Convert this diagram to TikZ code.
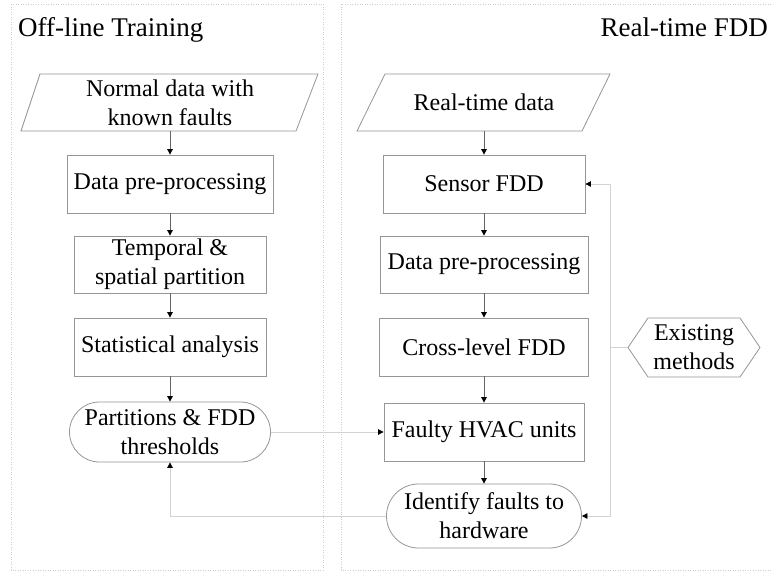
\documentclass[tikz,border=0pt]{standalone}
\usepackage{fontspec}
\setmainfont{Liberation Serif}
\usetikzlibrary{arrows.meta}
\definecolor{bordergray}{RGB}{150,150,150}
\definecolor{flowgray}{RGB}{100,100,100}
\definecolor{feedgray}{RGB}{210,210,210}
\definecolor{panelgray}{RGB}{205,205,205}
\begin{document}
\begin{tikzpicture}[x=1pt,y=-1pt,
  font=\fontsize{24}{29}\selectfont,
  procbox/.style={draw=bordergray,line width=0.8pt,inner sep=0pt,align=center},
  termbox/.style={procbox},
  txtonly/.style={inner sep=0pt,align=center},
  shapeline/.style={draw=bordergray,line width=0.8pt,line join=miter},
  flow/.style={draw=flowgray,line width=0.9pt,-{Triangle[width=5.5pt,length=5.5pt,color=black]}},
  feed/.style={draw=feedgray,line width=0.8pt,-{Triangle[width=5.5pt,length=5.5pt,color=black]}},
  feedline/.style={draw=feedgray,line width=0.8pt},
  panel/.style={draw=panelgray,line width=0.8pt,dash pattern=on 1pt off 1.5pt},
  titletext/.style={font=\fontsize{27}{32}\selectfont,inner sep=0pt}
]
\useasboundingbox (0,0) rectangle (773,576);
\fill[white] (0,0) rectangle (773,576);

% panels
\draw[panel] (11,4) rectangle (323,570);
\draw[panel] (341,4) rectangle (790,570);

% titles
\node[titletext,anchor=base west] (t1) at (18,36) {Off-line Training};
\node[titletext,anchor=base east] (t2) at (768,36) {Real-time FDD};

% ---------- left column ----------
\draw[shapeline] (40,74) -- (318,74) -- (296,131) -- (21,131) -- cycle;
\node[txtonly,minimum width=256,minimum height=57] (in1) at (170,102.5) {Normal data with\\known faults};

\node[procbox,minimum width=206,minimum height=58] (dp1) at (170,184) {Data pre-processing};
\node[procbox,minimum width=192,minimum height=57] (tp) at (170,264.5) {Temporal \&\\spatial partition};
\node[procbox,minimum width=192,minimum height=58] (sa) at (170,347) {Statistical analysis};
\node[termbox,rounded corners=30,minimum width=201,minimum height=60] (part) at (170,432) {Partitions \& FDD\\thresholds};

% ---------- right column ----------
\draw[shapeline] (385,74) -- (610,74) -- (582,131) -- (357,131) -- cycle;
\node[txtonly,minimum width=220,minimum height=57] (in2) at (484,102.5) {Real-time data};

\node[procbox,minimum width=202,minimum height=58] (sensor) at (484,184) {Sensor FDD};
\node[procbox,minimum width=208,minimum height=57] (dp2) at (484,264.5) {Data pre-processing};
\node[procbox,minimum width=209,minimum height=58] (cross) at (484,347) {Cross-level FDD};
\node[procbox,minimum width=200,minimum height=58] (faulty) at (484,432) {Faulty HVAC units};
\node[termbox,rounded corners=32,minimum width=195,minimum height=64] (ident) at (484,516) {Identify faults to\\hardware};

% existing methods hexagon
\draw[shapeline] (628,347.5) -- (648,318) -- (740,318) -- (760,347.5) -- (740,377) -- (648,377) -- cycle;
\node[txtonly,minimum width=132,minimum height=59] (ex) at (694,347.5) {Existing\\methods};
\coordinate (jn) at (610,347.5);

% ---------- connectors ----------
\draw[flow] (in1.south) -- (dp1.north);
\draw[flow] (dp1.south) -- (tp.north);
\draw[flow] (tp.south) -- (sa.north);
\draw[flow] (sa.south) -- (part.north);

\draw[flow] (in2.south) -- (sensor.north);
\draw[flow] (sensor.south) -- (dp2.north);
\draw[flow] (dp2.south) -- (cross.north);
\draw[flow] (cross.south) -- (faulty.north);
\draw[flow] (faulty.south) -- (ident.north);

\draw[feed] (part.east) -- (faulty.west);
\draw[feed] (ident.west) -| (part.south);
\draw[feedline] (ex.west) -- (jn);
\draw[feed] (jn) |- (sensor.east);
\draw[feed] (jn) |- (ident.east);
\end{tikzpicture}
\end{document}
